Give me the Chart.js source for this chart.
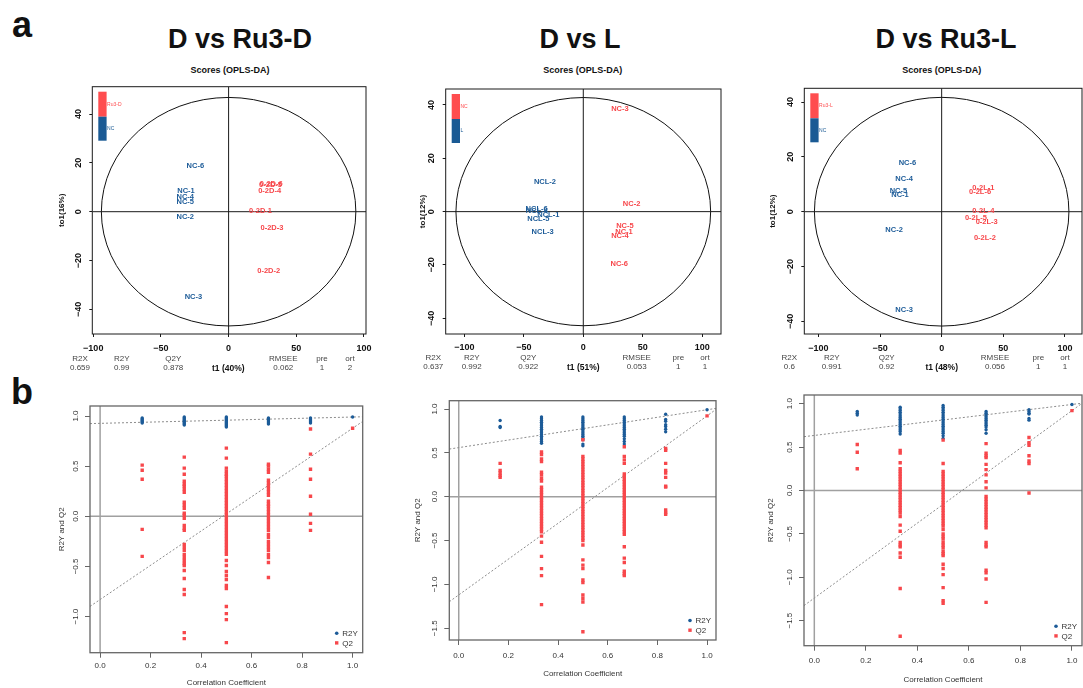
<!DOCTYPE html>
<html>
<head>
<meta charset="utf-8">
<script src="https://cdn.jsdelivr.net/npm/chart.js"></script>
<style>
  html, body { margin: 0; background: #fff; overflow: hidden; }
  #page { position: relative; width: 1083px; height: 688px; overflow: hidden; background: #fff; }
  #page canvas { position: absolute; }
  .t { position: absolute; transform: translate(-50%, -50%); white-space: nowrap; line-height: 1; }
</style>
</head>
<body>
<div id="page"></div>
<script>
  // ---------- scores (OPLS-DA): label positions t1 / to1 ----------
  const ru3dNcNames = ['NC-1', 'NC-2', 'NC-3', 'NC-4', 'NC-5', 'NC-6'];
  const ru3dNcT1 = [-31.5, -32, -26, -32, -32, -24.6];
  const ru3dNcTo1 = [8.4, -2.0, -35.1, 6.1, 4.2, 18.8];
  const ru3dNames = ['0-2D-1', '0-2D-2', '0-2D-3', '0-2D-4', '0-2D-5', '0-2D-6'];
  const ru3dT1 = [23.6, 29.6, 32, 30.3, 31.0, 31.5];
  const ru3dTo1 = [0.3, -24.3, -6.5, 8.7, 11.0, 11.4];

  const lNames = ['NCL-1', 'NCL-2', 'NCL-3', 'NCL-4', 'NCL-5', 'NCL-6'];
  const lT1 = [-29.4, -32.2, -34.2, -39, -37.8, -39.2];
  const lTo1 = [-1.25, 11, -7.75, 0.25, -2.75, 1.0];
  const lNcNames = ['NC-1', 'NC-2', 'NC-3', 'NC-4', 'NC-5', 'NC-6'];
  const lNcT1 = [34.2, 40.6, 30.8, 30.8, 35, 30.2];
  const lNcTo1 = [-7.5, 3, 38.4, -9, -5.25, -19.75];

  const ru3lNcNames = ['NC-1', 'NC-2', 'NC-3', 'NC-4', 'NC-5', 'NC-6'];
  const ru3lNcT1 = [-33.8, -38.6, -30.5, -30.5, -35.1, -27.8];
  const ru3lNcTo1 = [6.1, -6.8, -35.7, 12, 7.7, 17.6];
  const ru3lNames = ['0-2L-1', '0-2L-2', '0-2L-3', '0-2L-4', '0-2L-5', '0-2L-6'];
  const ru3lT1 = [33.8, 35.1, 36.5, 33.8, 27.8, 31.1];
  const ru3lTo1 = [8.75, -9.6, -3.9, 0.1, -2.3, 7.2];

  const scoreXTicks = [-100, -50, 0, 50, 100];
  const scoreYTicks = [-40, -20, 0, 20, 40];

  // model summary rows
  const statHeads = ['R2X', 'R2Y', 'Q2Y', 'RMSEE', 'pre', 'ort'];
  const statsRu3D = ['0.659', '0.99', '0.878', '0.062', '1', '2'];
  const statsL = ['0.637', '0.992', '0.922', '0.053', '1', '1'];
  const statsRu3L = ['0.6', '0.991', '0.92', '0.056', '1', '1'];

  // ---------- permutation tests ----------
  const permX = [0.1667, 0.3333, 0.5, 0.6667, 0.8333, 1.0];
  const permXTicks = [0, 0.2, 0.4, 0.6, 0.8, 1.0];
  const permYTicksRu3D = [-1, -0.5, 0, 0.5, 1];
  const permYTicksL = [-1.5, -1, -0.5, 0, 0.5, 1];

  const r2yRu3D = [
    [0.98, 0.97, 0.96, 0.95, 0.94, 0.93],
    [0.99, 0.98, 0.97, 0.96, 0.95, 0.94, 0.93, 0.92, 0.91],
    [0.99, 0.98, 0.97, 0.96, 0.95, 0.94, 0.93, 0.92, 0.91, 0.90, 0.89],
    [0.98, 0.97, 0.96, 0.95, 0.94, 0.93, 0.92],
    [0.98, 0.97, 0.96, 0.95, 0.94, 0.93],
    [0.99]
  ];
  const q2Ru3D = [
    [0.51, 0.46, 0.37, -0.13, -0.40],
    [0.59, 0.48, 0.42, 0.35, 0.32, 0.30, 0.27, 0.24, 0.14, 0.11, 0.08, 0.03, 0.01, -0.02, -0.09, -0.12, -0.14,
     -0.28, -0.31, -0.34, -0.38, -0.41, -0.44, -0.47, -0.49, -0.54, -0.62, -0.73, -0.78, -1.16, -1.22],
    [0.68, 0.58, 0.48, 0.45, 0.42, 0.40, 0.37, 0.34, 0.31, 0.28, 0.25, 0.22, 0.19, 0.16, 0.13, 0.10, 0.07, 0.04,
     0.01, -0.02, -0.05, -0.08, -0.11, -0.14, -0.17, -0.20, -0.23, -0.26, -0.29, -0.32, -0.35, -0.38, -0.44,
     -0.49, -0.55, -0.59, -0.63, -0.69, -0.72, -0.90, -0.97, -1.03, -1.26],
    [0.52, 0.50, 0.47, 0.44, 0.36, 0.33, 0.30, 0.27, 0.24, 0.21, 0.15, 0.12, 0.10, 0.07, 0.04, 0.01, -0.02,
     -0.05, -0.08, -0.11, -0.14, -0.18, -0.21, -0.25, -0.28, -0.31, -0.34, -0.38, -0.41, -0.46, -0.61],
    [0.87, 0.62, 0.47, 0.37, 0.20, 0.02, -0.07, -0.14],
    [0.878]
  ];
  const r2yLineRu3D = [0.927, 0.99];   // value at x = 0 and x = 1
  const q2LineRu3D = [-0.83, 0.878];

  const r2yL = [
    [0.87, 0.80, 0.79],
    [0.91, 0.89, 0.87, 0.85, 0.83, 0.81, 0.79, 0.77, 0.75, 0.73, 0.71, 0.69, 0.67, 0.65, 0.63, 0.61],
    [0.91, 0.89, 0.87, 0.85, 0.83, 0.81, 0.79, 0.77, 0.75, 0.73, 0.71, 0.69, 0.67, 0.65, 0.60, 0.58],
    [0.91, 0.89, 0.87, 0.85, 0.83, 0.81, 0.79, 0.77, 0.75, 0.73, 0.71, 0.69, 0.66, 0.63, 0.60],
    [0.94, 0.88, 0.86, 0.82, 0.80, 0.77, 0.74],
    [0.992]
  ];
  const q2L = [
    [0.38, 0.30, 0.27, 0.24, 0.22],
    [0.51, 0.48, 0.43, 0.40, 0.28, 0.25, 0.21, 0.18, 0.11, 0.08, 0.05, 0.02, -0.01, -0.04, -0.07, -0.10, -0.13,
     -0.16, -0.19, -0.22, -0.25, -0.28, -0.31, -0.34, -0.37, -0.40, -0.45, -0.52, -0.68, -0.82, -0.90, -1.23],
    [0.65, 0.46, 0.43, 0.40, 0.37, 0.34, 0.31, 0.28, 0.25, 0.22, 0.19, 0.16, 0.13, 0.10, 0.07, 0.04, 0.01,
     -0.02, -0.05, -0.08, -0.11, -0.14, -0.17, -0.20, -0.23, -0.26, -0.29, -0.32, -0.35, -0.38, -0.41, -0.44,
     -0.47, -0.50, -0.55, -0.72, -0.78, -0.82, -0.95, -0.98, -1.12, -1.16, -1.20, -1.54],
    [0.57, 0.46, 0.42, 0.38, 0.26, 0.23, 0.20, 0.17, 0.14, 0.11, 0.08, 0.05, 0.02, -0.01, -0.04, -0.07, -0.10,
     -0.13, -0.16, -0.19, -0.22, -0.25, -0.28, -0.31, -0.34, -0.37, -0.40, -0.43, -0.57, -0.70, -0.75, -0.85,
     -0.88, -0.90],
    [0.55, 0.53, 0.38, 0.30, 0.27, 0.22, 0.12, 0.11, -0.15, -0.18, -0.20],
    [0.922]
  ];
  const r2yLineL = [0.56, 0.992];
  const q2LineL = [-1.12, 0.922];

  const r2yRu3L = [
    [0.91, 0.89, 0.87],
    [0.96, 0.94, 0.92, 0.90, 0.88, 0.86, 0.84, 0.82, 0.80, 0.78, 0.76, 0.74, 0.72, 0.70, 0.68, 0.65],
    [0.98, 0.96, 0.94, 0.92, 0.90, 0.88, 0.86, 0.84, 0.82, 0.80, 0.78, 0.76, 0.74, 0.72, 0.70, 0.68, 0.66, 0.63, 0.60],
    [0.91, 0.89, 0.87, 0.85, 0.83, 0.81, 0.79, 0.77, 0.75, 0.73, 0.70, 0.66],
    [0.93, 0.91, 0.89, 0.88, 0.83, 0.81],
    [0.991]
  ];
  const q2Ru3L = [
    [0.53, 0.44, 0.25],
    [0.46, 0.43, 0.32, 0.25, 0.22, 0.19, 0.16, 0.13, 0.10, 0.07, 0.04, 0.01, -0.02, -0.05, -0.08, -0.11, -0.14,
     -0.17, -0.20, -0.23, -0.26, -0.30, -0.40, -0.47, -0.60, -0.63, -0.65, -0.72, -0.77, -1.13, -1.68],
    [0.58, 0.31, 0.22, 0.19, 0.16, 0.13, 0.10, 0.07, 0.04, 0.01, -0.02, -0.05, -0.08, -0.11, -0.14, -0.17, -0.20,
     -0.23, -0.26, -0.29, -0.32, -0.35, -0.38, -0.41, -0.45, -0.50, -0.53, -0.56, -0.60, -0.63, -0.66, -0.70,
     -0.73, -0.75, -0.85, -0.90, -0.97, -1.12, -1.27, -1.30],
    [0.54, 0.43, 0.40, 0.38, 0.30, 0.24, 0.18, 0.10, 0.03, -0.07, -0.10, -0.13, -0.16, -0.19, -0.22, -0.25,
     -0.28, -0.31, -0.34, -0.37, -0.40, -0.43, -0.60, -0.63, -0.65, -0.92, -0.95, -1.02, -1.29],
    [0.61, 0.55, 0.52, 0.40, 0.34, 0.31, -0.03],
    [0.92]
  ];
  const r2yLineRu3L = [0.634, 0.991];
  const q2LineRu3L = [-1.24, 0.92];

  // ---------- drawing ----------
  const FONT = "'Liberation Sans', Arial, Helvetica, sans-serif";
  const BLUE = '#1c5b98';
  const RED = '#f7474b';
  const page = document.getElementById('page');

  function addText(txt, x, y, font, color) {
    const d = document.createElement('div');
    d.className = 't';
    d.textContent = txt;
    d.style.left = x + 'px';
    d.style.top = y + 'px';
    d.style.font = font + ' ' + FONT;
    d.style.lineHeight = '1';
    d.style.color = color || '#111';
    page.appendChild(d);
  }

  const minus = s => String(s).replace('-', '\u2212');

  // R style extras: frame, zero lines, ellipse, fit lines, rotated y labels, text labels, legends
  const decor = {
    id: 'decor',
    beforeDatasetsDraw(chart, args, o) {
      const { ctx, chartArea: a, scales: { x, y } } = chart;
      const px0 = x.getPixelForValue(0), py0 = y.getPixelForValue(0);
      ctx.save();
      ctx.beginPath();
      ctx.rect(a.left, a.top, a.right - a.left, a.bottom - a.top);
      ctx.clip();
      ctx.strokeStyle = o.zeroColor;
      ctx.lineWidth = o.zeroWidth;
      ctx.beginPath();
      ctx.moveTo(px0, a.top); ctx.lineTo(px0, a.bottom);
      ctx.moveTo(a.left, py0); ctx.lineTo(a.right, py0);
      ctx.stroke();
      if (o.ellipse) {
        ctx.strokeStyle = '#111';
        ctx.lineWidth = 1;
        ctx.beginPath();
        ctx.ellipse(px0, py0, x.getPixelForValue(o.ellipse[0]) - px0,
          py0 - y.getPixelForValue(o.ellipse[1]), 0, 0, Math.PI * 2);
        ctx.stroke();
      }
      if (o.fits) {
        ctx.strokeStyle = '#8c8c8c';
        ctx.lineWidth = 1;
        ctx.setLineDash([2, 2]);
        o.fits.forEach(f => {
          const at = v => f[0] + (f[1] - f[0]) * v;
          ctx.beginPath();
          ctx.moveTo(a.left, y.getPixelForValue(at(x.min)));
          ctx.lineTo(a.right, y.getPixelForValue(at(x.max)));
          ctx.stroke();
        });
      }
      ctx.restore();
    },
    afterDraw(chart, args, o) {
      const { ctx, chartArea: a, scales: { y } } = chart;
      ctx.save();
      // point names
      if (o.names) {
        ctx.font = 'bold 7.5px ' + FONT;
        ctx.textAlign = 'center';
        ctx.textBaseline = 'middle';
        chart.data.datasets.forEach((ds, i) => {
          ctx.fillStyle = ds.backgroundColor;
          chart.getDatasetMeta(i).data.forEach((pt, j) => ctx.fillText(o.names[i][j], pt.x, pt.y));
        });
      }
      // frame
      ctx.strokeStyle = o.frameColor;
      ctx.lineWidth = o.frameWidth;
      ctx.strokeRect(a.left, a.top, a.right - a.left, a.bottom - a.top);
      // y tick labels, vertical as in R
      ctx.fillStyle = o.tickColor;
      ctx.font = o.tickFont;
      ctx.textAlign = 'center';
      ctx.textBaseline = 'middle';
      y.ticks.forEach(t => {
        ctx.save();
        ctx.translate(a.left - o.yTickGap, y.getPixelForValue(t.value));
        ctx.rotate(-Math.PI / 2);
        ctx.fillText(t.label, 0, 0);
        ctx.restore();
      });
      // group colour key (scores plots)
      if (o.groups) {
        let top = a.top + 5;
        ctx.font = '5px ' + FONT;
        ctx.textAlign = 'left';
        o.groups.forEach((g, i) => {
          const h = i === 0 ? 25 : 24;
          ctx.fillStyle = g.color;
          ctx.fillRect(a.left + 6, top, 8.3, h);
          ctx.fillText(g.label, a.left + 14.8, top + h / 2);
          top += h;
        });
      }
      // R2Y / Q2 key
      if (o.key) {
        ctx.font = '8px ' + FONT;
        ctx.textAlign = 'left';
        chart.data.datasets.forEach((ds, i) => {
          const kx = a.right - 26, ky = a.bottom - 19.5 + i * 9.7;
          ctx.fillStyle = ds.backgroundColor;
          ctx.beginPath();
          if (ds.pointStyle === 'rect') ctx.rect(kx - 1.7, ky - 1.7, 3.4, 3.4);
          else ctx.arc(kx, ky, 1.8, 0, Math.PI * 2);
          ctx.fill();
          ctx.fillStyle = '#333';
          ctx.fillText(ds.label, kx + 5.5, ky + 0.5);
        });
      }
      ctx.restore();
    }
  };

  const topStyle = {
    tickSize: 9, tickWeight: 'bold', tickColor: '#111', tickLen: 3, frame: '#1a1a1a', frameW: 1,
    zero: '#1a1a1a', zeroW: 1, titleWeight: 'bold', titleColor: '#111', yTickGap: 14
  };
  const botStyle = {
    tickSize: 8, tickWeight: 'normal', tickColor: '#333', tickLen: 5, frame: '#666', frameW: 1.3,
    zero: '#a0a0a0', zeroW: 1.5, titleWeight: 'normal', titleColor: '#333', yTickGap: 14.5
  };

  function buildPanel(p) {
    const s = p.style;
    const [bl, bt, br, bb] = p.box;
    const x0 = Math.floor(bl) - 40, y0 = Math.floor(bt) - 4;
    const W = Math.ceil(br) + 20 - x0, H = p.bottom - y0;
    const cv = document.createElement('canvas');
    cv.width = W; cv.height = H;
    cv.style.left = x0 + 'px'; cv.style.top = y0 + 'px';
    page.appendChild(cv);
    const lhTick = s.tickSize * 1.2, lhTitle = 8 * 1.2;
    const titleFont = { family: FONT, size: 8, weight: s.titleWeight };

    new Chart(cv, {
      type: 'scatter',
      data: { datasets: p.datasets },
      options: {
        responsive: false,
        animation: false,
        events: [],
        layout: { padding: { left: 0, top: bt - y0, right: x0 + W - br, bottom: 0 } },
        scales: {
          x: {
            type: 'linear', min: p.xr[0], max: p.xr[1],
            afterBuildTicks: sc => { sc.ticks = p.xTicks.map(v => ({ value: v })); },
            afterFit: sc => { sc.height = y0 + H - bb; },
            border: { display: false },
            grid: { drawOnChartArea: false, drawTicks: true, tickLength: s.tickLen, color: s.frame, lineWidth: 1 },
            ticks: {
              autoSkip: false, maxRotation: 0,
              padding: p.xTickY - bb - s.tickLen - lhTick / 2,
              color: s.tickColor, font: { family: FONT, size: s.tickSize, weight: s.tickWeight },
              callback: v => minus(p.xDigits ? v.toFixed(p.xDigits) : v)
            },
            title: p.xTitle ? {
              display: true, text: p.xTitle, color: s.titleColor, font: titleFont,
              padding: { top: 0, bottom: Math.max(0, y0 + H - p.xTitleY - lhTitle / 2) }
            } : { display: false }
          },
          y: {
            type: 'linear', min: p.yr[0], max: p.yr[1],
            afterBuildTicks: sc => { sc.ticks = p.yTicks.map(v => ({ value: v })); },
            afterFit: sc => { sc.width = bl - x0; },
            border: { display: false },
            grid: { drawOnChartArea: false, drawTicks: true, tickLength: s.tickLen, color: s.frame, lineWidth: 1 },
            ticks: {
              display: false,
              callback: v => minus(p.yDigits ? v.toFixed(p.yDigits) : v)
            },
            title: {
              display: true, text: p.yTitle, color: s.titleColor, font: titleFont,
              padding: { top: p.yTitleX - x0 - lhTitle / 2, bottom: 0 }
            }
          }
        },
        plugins: {
          legend: { display: false },
          tooltip: { enabled: false },
          decor: {
            ellipse: p.ellipse, fits: p.fits, names: p.names, groups: p.groups, key: p.key,
            zeroColor: s.zero, zeroWidth: s.zeroW, frameColor: s.frame, frameWidth: s.frameW,
            tickColor: s.tickColor, tickFont: s.tickWeight + ' ' + s.tickSize + 'px ' + FONT, yTickGap: s.yTickGap
          }
        }
      },
      plugins: [decor]
    });
  }

  const labelSet = (t1, to1, color) => ({
    data: t1.map((v, i) => ({ x: v, y: to1[i] })),
    backgroundColor: color, pointRadius: 0
  });
  const permSet = (label, cols, color, style, r, order) => ({
    label, order,
    data: cols.flatMap((col, i) => col.map(v => ({ x: permX[i], y: v }))),
    backgroundColor: color, pointStyle: style, pointRadius: r, borderWidth: 0
  });

  // top row: scores plots
  buildPanel({
    style: topStyle, box: [92.3, 86.7, 366, 334], bottom: 356,
    xr: [-100.7, 101.5], yr: [-50.1, 51.2], xTicks: scoreXTicks, yTicks: scoreYTicks, xTickY: 349,
    yTitle: 'to1(16%)', yTitleX: 62, ellipse: [94, 46.8],
    datasets: [labelSet(ru3dNcT1, ru3dNcTo1, BLUE), labelSet(ru3dT1, ru3dTo1, RED)],
    names: [ru3dNcNames, ru3dNames],
    groups: [{ label: 'Ru3-D', color: '#ff4d4f' }, { label: 'NC', color: '#1a5a94' }]
  });
  buildPanel({
    style: topStyle, box: [445.7, 89, 721, 334], bottom: 356,
    xr: [-115.6, 115.7], yr: [-45.9, 46], xTicks: scoreXTicks, yTicks: scoreYTicks, xTickY: 347.3,
    yTitle: 'to1(12%)', yTitleX: 422.7, ellipse: [107, 42.8],
    datasets: [labelSet(lT1, lTo1, BLUE), labelSet(lNcT1, lNcTo1, RED)],
    names: [lNames, lNcNames],
    groups: [{ label: 'NC', color: '#ff4d4f' }, { label: 'L', color: '#1a5a94' }]
  });
  buildPanel({
    style: topStyle, box: [804.3, 88.3, 1082, 334], bottom: 356,
    xr: [-111.4, 113.8], yr: [-44.6, 45], xTicks: scoreXTicks, yTicks: scoreYTicks, xTickY: 348.3,
    yTitle: 'to1(12%)', yTitleX: 772.7, ellipse: [103.2, 41.7],
    datasets: [labelSet(ru3lNcT1, ru3lNcTo1, BLUE), labelSet(ru3lT1, ru3lTo1, RED)],
    names: [ru3lNcNames, ru3lNames],
    groups: [{ label: 'Ru3-L', color: '#ff4d4f' }, { label: 'NC', color: '#1a5a94' }]
  });

  // bottom row: permutation plots
  const bottomPanels = [
    { box: [90, 406, 362.7, 652.7], xr: [-0.04, 1.04], yr: [-1.36, 1.10], yTicks: permYTicksRu3D,
      xTickY: 666, xTitleY: 683.3, yTitleX: 62, r2y: r2yRu3D, q2: q2Ru3D, fits: [r2yLineRu3D, q2LineRu3D] },
    { box: [449.3, 400.7, 716, 640], xr: [-0.038, 1.036], yr: [-1.634, 1.095], yTicks: permYTicksL,
      xTickY: 656, xTitleY: 673.3, yTitleX: 417.3, r2y: r2yL, q2: q2L, fits: [r2yLineL, q2LineL] },
    { box: [804, 395, 1082, 645.7], xr: [-0.04, 1.039], yr: [-1.789, 1.10], yTicks: permYTicksL,
      xTickY: 660.7, xTitleY: 679.3, yTitleX: 770.7, r2y: r2yRu3L, q2: q2Ru3L, fits: [r2yLineRu3L, q2LineRu3L] }
  ];
  bottomPanels.forEach(b => buildPanel({
    style: botStyle, box: b.box, bottom: 688, xr: b.xr, yr: b.yr,
    xTicks: permXTicks, yTicks: b.yTicks, xDigits: 1, yDigits: 1, xTickY: b.xTickY,
    xTitle: 'Correlation Coefficient', xTitleY: b.xTitleY,
    yTitle: 'R2Y and Q2', yTitleX: b.yTitleX, fits: b.fits, key: true,
    datasets: [
      permSet('R2Y', b.r2y, BLUE, 'circle', 1.7, 1),
      permSet('Q2', b.q2, RED, 'rect', 2.4, 0)
    ]
  }));

  // page texts
  addText('a', 22, 24.6, 'bold 36px');
  addText('b', 22, 392, 'bold 36px');
  [['D vs Ru3-D', 240], ['D vs L', 580], ['D vs Ru3-L', 946]].forEach(([t, x]) => addText(t, x, 38.7, 'bold 27px'));
  [230, 582.7, 941.7].forEach(x => addText('Scores (OPLS-DA)', x, 70, 'bold 9px'));

  const statCols = [
    { xs: [80, 121.7, 173.3, 283.3, 322, 350], t1x: 228.3, y: 358.8, vals: statsRu3D, t1: 't1 (40%)' },
    { xs: [433.3, 471.7, 528.3, 636.7, 678.3, 705], t1x: 583.3, y: 357.9, vals: statsL, t1: 't1 (51%)' },
    { xs: [789.3, 831.7, 886.7, 995, 1038.3, 1065], t1x: 941.7, y: 357.9, vals: statsRu3L, t1: 't1 (48%)' }
  ];
  statCols.forEach(c => {
    statHeads.forEach((h, i) => {
      addText(h, c.xs[i], c.y, '8px', '#444');
      addText(c.vals[i], c.xs[i], c.y + 9.4, '8px', '#444');
    });
    addText(c.t1, c.t1x, c.y + 9.4, 'bold 8.5px', '#111');
  });
</script>
</body>
</html>
